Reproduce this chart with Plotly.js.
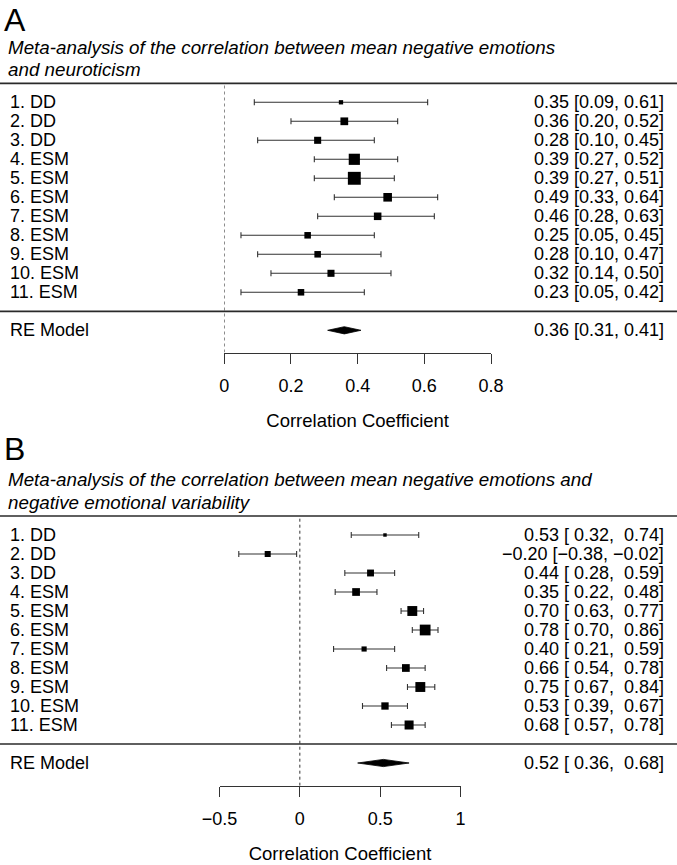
<!DOCTYPE html>
<html>
<head>
<meta charset="utf-8">
<script src="https://cdn.plot.ly/plotly-3.0.1.min.js"></script>
<style>
  html, body { margin: 0; padding: 0; background: #ffffff; }
  #chart { width: 677px; height: 865px; }
</style>
</head>
<body>
<div id="chart"></div>
<script>
// ---------------- DATA ----------------
const studyLabels = ['1. DD', '2. DD', '3. DD', '4. ESM', '5. ESM', '6. ESM', '7. ESM', '8. ESM', '9. ESM', '10. ESM', '11. ESM'];

// Panel A: mean negative emotions vs neuroticism
const estA   = [0.35, 0.36, 0.28, 0.39, 0.39, 0.49, 0.46, 0.25, 0.28, 0.32, 0.23];
const lowerA = [0.09, 0.20, 0.10, 0.27, 0.27, 0.33, 0.28, 0.05, 0.10, 0.14, 0.05];
const upperA = [0.61, 0.52, 0.45, 0.52, 0.51, 0.64, 0.63, 0.45, 0.47, 0.50, 0.42];
const weightA = [5.0, 9.0, 8.2, 13.0, 15.0, 10.0, 8.8, 7.6, 7.6, 8.2, 7.6];   // study weights (%), estimated
const reA = [0.36, 0.31, 0.41];   // estimate, lower, upper
const ticksA = [0, 0.2, 0.4, 0.6, 0.8];

// Panel B: mean negative emotions vs negative emotional variability
const estB   = [0.53, -0.20, 0.44, 0.35, 0.70, 0.78, 0.40, 0.66, 0.75, 0.53, 0.68];
const lowerB = [0.32, -0.38, 0.28, 0.22, 0.63, 0.70, 0.21, 0.54, 0.67, 0.39, 0.57];
const upperB = [0.74, -0.02, 0.59, 0.48, 0.77, 0.86, 0.59, 0.78, 0.84, 0.67, 0.78];
const weightB = [4.0, 7.0, 8.0, 9.0, 11.5, 12.5, 6.0, 9.0, 11.5, 8.5, 10.5];  // study weights (%), estimated
const reB = [0.52, 0.36, 0.68];
const ticksB = [-0.5, 0, 0.5, 1];

const reLabel = 'RE Model';
const axisTitle = 'Correlation Coefficient';
const titleA = ['Meta-analysis of the correlation between mean negative emotions', 'and neuroticism'];
const titleB = ['Meta-analysis of the correlation between mean negative emotions and', 'negative emotional variability'];

// ---------------- LAYOUT HELPERS ----------------
const W = 677, H = 865;
const FONT = 'Liberation Sans, Arial, Helvetica, sans-serif';
const FS = 18;
const px2paperY = p => 1 - p / H;
const px2paperX = p => p / W;

const nStudies = studyLabels.length;
const rowY = studyLabels.map((_, i) => nStudies - i);   // 11 ... 1
const reY = -1;

function fmtFactory(values) {
  const hasNeg = values.some(v => v < 0);
  return v => (v < 0 ? '\u2212' : (hasNeg ? '\u00a0' : '')) + Math.abs(v).toFixed(2);
}
function ciText(e, l, u, fmt) {
  return fmt(e) + '\u00a0[' + fmt(l) + ',\u00a0' + fmt(u) + ']';
}

const sizeScale = 0.86; // px per % weight
const diamondHalf = 0.19; // in row units

function panelTraces(est, lo, up, w, re, xa, ya) {
  const tr = [];
  tr.push({
    type: 'scatter', mode: 'markers', x: est, y: rowY, xaxis: xa, yaxis: ya,
    marker: { symbol: 'square', size: w.map(v => v * sizeScale), color: '#000000', opacity: 1, line: { width: 0 } },
    error_x: {
      type: 'data', symmetric: false,
      array: up.map((u, i) => u - est[i]),
      arrayminus: lo.map((l, i) => est[i] - l),
      width: 3, thickness: 1.1, color: '#333333'
    },
    showlegend: false, hoverinfo: 'skip', cliponaxis: false
  });
  tr.push({
    type: 'scatter', mode: 'lines', xaxis: xa, yaxis: ya,
    x: [re[1], re[0], re[2], re[0], re[1]],
    y: [reY, reY + diamondHalf, reY, reY - diamondHalf, reY],
    fill: 'toself', fillcolor: '#000000', line: { color: '#000000', width: 0.8 },
    showlegend: false, hoverinfo: 'skip'
  });
  return tr;
}

// Panel geometry (pixels)
const A = { top: 0, axisPx: 352.5, y0Px: 311.3, unit: 19.0, sepTop: 12, sepBot: 0, x0: 224.3, x1: 491.0 };
const B = { top: 440, axisPx: 785.7, y0Px: 744.0, unit: 19.0, sepTop: 12, sepBot: 0, x0: 219.5, x1: 460.5 };
function yRange(P) {
  return [-(P.axisPx - P.y0Px) / P.unit, (P.y0Px - P.top) / P.unit];
}

const fmtA = fmtFactory([].concat(estA, lowerA, upperA));
const fmtB = fmtFactory([].concat(estB, lowerB, upperB));

const annotations = [];
function addPanelText(letter, letterTopPx, titleLines, titlePx, est, lo, up, re, fmt, yref) {
  annotations.push({ xref: 'paper', yref: 'paper', x: px2paperX(2), y: px2paperY(letterTopPx), xanchor: 'left', yanchor: 'top',
    text: letter, showarrow: false, font: { family: FONT, size: 32, color: '#000' } });
  titleLines.forEach((t, i) => annotations.push({ xref: 'paper', yref: 'paper', x: px2paperX(6), y: px2paperY(titlePx[i]),
    xanchor: 'left', yanchor: 'middle', text: '<i>' + t + '</i>', showarrow: false, font: { family: FONT, size: 18.8, color: '#000' } }));
  studyLabels.forEach((lab, i) => {
    annotations.push({ xref: 'paper', yref: yref, x: px2paperX(8), y: rowY[i], xanchor: 'left', yanchor: 'middle',
      text: lab, showarrow: false, font: { family: FONT, size: FS, color: '#000' } });
    annotations.push({ xref: 'paper', yref: yref, x: px2paperX(666), y: rowY[i], xanchor: 'right', yanchor: 'middle',
      text: ciText(est[i], lo[i], up[i], fmt), showarrow: false, font: { family: FONT, size: FS, color: '#000' } });
  });
  annotations.push({ xref: 'paper', yref: yref, x: px2paperX(8), y: reY, xanchor: 'left', yanchor: 'middle',
    text: reLabel, showarrow: false, font: { family: FONT, size: FS, color: '#000' } });
  annotations.push({ xref: 'paper', yref: yref, x: px2paperX(666), y: reY, xanchor: 'right', yanchor: 'middle',
    text: ciText(re[0], re[1], re[2], fmt), showarrow: false, font: { family: FONT, size: FS, color: '#000' } });
}
addPanelText('A', 0, titleA, [48, 70], estA, lowerA, upperA, reA, fmtA, 'y');
addPanelText('B', 429, titleB, [480, 502], estB, lowerB, upperB, reB, fmtB, 'y2');

function panelShapes(P, xref, yref) {
  const r = yRange(P);
  return [
    { type: 'line', xref: 'paper', yref: yref, x0: 0, x1: 1, y0: P.sepTop, y1: P.sepTop, line: { color: '#2a2a2a', width: 1.7 } },
    { type: 'line', xref: 'paper', yref: yref, x0: 0, x1: 1, y0: P.sepBot, y1: P.sepBot, line: { color: '#2a2a2a', width: 1.7 } },
    { type: 'line', xref: xref, yref: yref, x0: 0, x1: 0, y0: r[0], y1: P.sepTop, line: { color: '#333', width: 1, dash: 'dot' }, layer: 'below' }
  ];
}

function xAxis(P, range, ticks, anchor) {
  return {
    domain: [px2paperX(P.x0), px2paperX(P.x1)], range: range, anchor: anchor,
    showgrid: false, zeroline: false, showline: true, linecolor: '#333', linewidth: 1,
    ticks: 'outside', ticklen: 10, tickwidth: 1, tickcolor: '#333',
    tickvals: ticks, ticklabelstandoff: 7,
    tickfont: { family: FONT, size: FS, color: '#000' },
    title: { text: axisTitle, font: { family: FONT, size: 18.5, color: '#000' }, standoff: 18 },
    fixedrange: true
  };
}
function yAxis(P) {
  return {
    domain: [px2paperY(P.axisPx), px2paperY(P.top)], range: yRange(P),
    visible: false, showgrid: false, zeroline: false, fixedrange: true
  };
}

const layout = {
  width: W, height: H,
  margin: { l: 0, r: 0, t: 0, b: 0 },
  paper_bgcolor: '#ffffff', plot_bgcolor: 'rgba(0,0,0,0)',
  font: { family: FONT, size: FS, color: '#000' },
  xaxis: xAxis(A, [0, 0.8], ticksA, 'y'),
  yaxis: yAxis(A),
  xaxis2: xAxis(B, [-0.5, 1], ticksB, 'y2'),
  yaxis2: yAxis(B),
  annotations: annotations,
  shapes: [].concat(panelShapes(A, 'x', 'y'), panelShapes(B, 'x2', 'y2')),
  showlegend: false
};

const data = [].concat(
  panelTraces(estA, lowerA, upperA, weightA, reA, 'x', 'y'),
  panelTraces(estB, lowerB, upperB, weightB, reB, 'x2', 'y2')
);

Plotly.newPlot('chart', data, layout, { staticPlot: true, displayModeBar: false });
</script>
</body>
</html>
